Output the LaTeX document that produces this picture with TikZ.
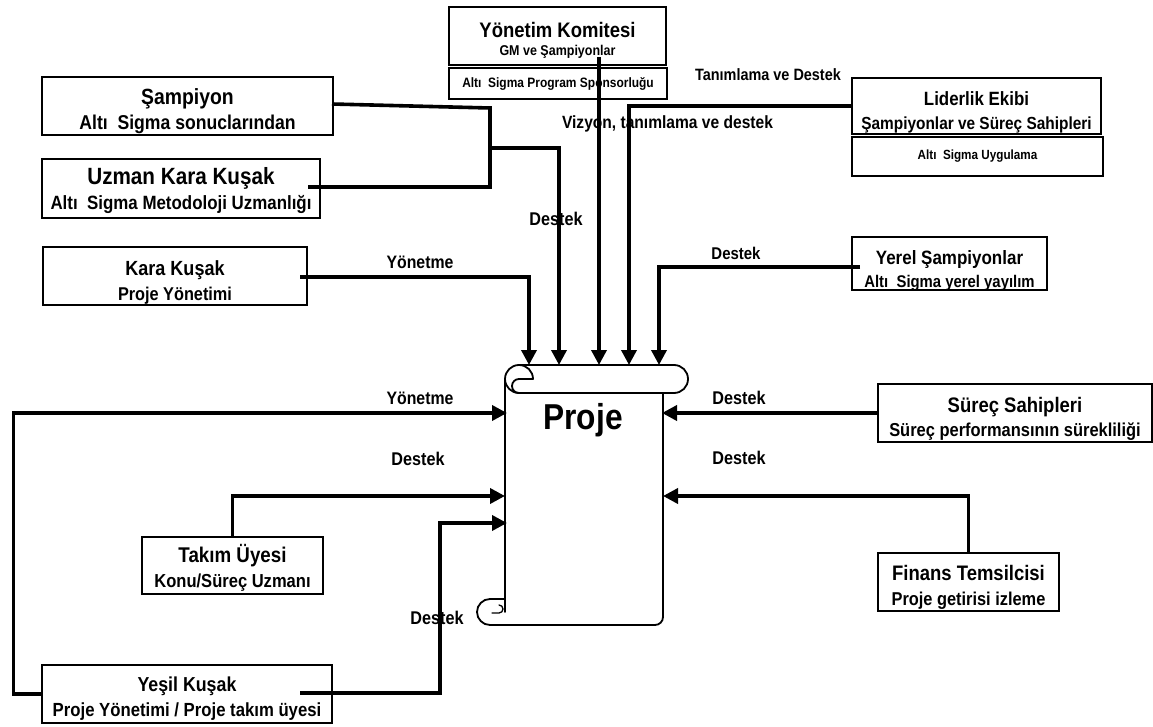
\documentclass[tikz,border=0pt]{standalone}
\usepackage{fontspec}
\setmainfont{Liberation Sans}[FakeStretch=0.88]
\usetikzlibrary{arrows.meta}
\newcommand\myfs[2]{\fontsize{#1}{#2}\selectfont\bfseries}
\begin{document}
\begin{tikzpicture}[x=1pt,y=-1pt,
  box/.style={draw, line width=1.4pt, inner sep=0pt},
  txt/.style={align=center, inner sep=0pt},
  conn/.style={line width=3.6pt},
  arr/.style={conn, -{Triangle[width=15pt,length=15pt]}},
  lbl/.style={inner sep=0pt},
  scroll/.style={line width=1.8pt, line cap=round}
]
\fill[white] (0,0) rectangle (1153,727);
\useasboundingbox (0,0) rectangle (1153,727);

% boxes
\node[box, minimum width=217pt, minimum height=58pt,
  label={[txt, yshift=-4pt, font=\myfs{21}{22}]center:Yönetim Komitesi\\[-4pt]\myfs{14.2}{22}GM ve Şampiyonlar}] (kom) at (557.5,36) {};
\node[box, minimum width=218pt, minimum height=31pt,
  label={[txt, font=\myfs{13.6}{16}]center:Altı\ \ Sigma Program Sponsorluğu}] (kom2) at (558,83.5) {};
\node[box, minimum width=291pt, minimum height=58pt,
  label={[txt, yshift=-5.5pt, font=\myfs{22}{25}]center:Şampiyon\\\myfs{20}{25}Altı\ \ Sigma sonuclarından}] (samp) at (187.5,106) {};
\node[box, minimum width=278pt, minimum height=59pt,
  label={[txt, yshift=-2.5pt, font=\myfs{23.5}{25}]center:Uzman Kara Kuşak\\\myfs{19.2}{25}Altı\ \ Sigma Metodoloji Uzmanlığı}] (uzman) at (181,188.5) {};
\node[box, minimum width=264pt, minimum height=58pt,
  label={[txt, yshift=-6.5pt, font=\myfs{20.5}{25}]center:Kara Kuşak\\\myfs{18.5}{25}Proje Yönetimi}] (kara) at (175,276) {};
\node[box, minimum width=249pt, minimum height=56pt,
  label={[txt, yshift=-6pt, font=\myfs{19.2}{24}]center:Liderlik Ekibi\\\myfs{17.5}{24}Şampiyonlar ve Süreç Sahipleri}] (lid) at (976.5,106) {};
\node[box, minimum width=251pt, minimum height=39pt,
  label={[txt, font=\myfs{13.3}{16}]center:Altı\ \ Sigma Uygulama}] (lid2) at (977.5,156.5) {};
\node[box, minimum width=195pt, minimum height=53pt,
  label={[txt, yshift=-7pt, font=\myfs{19.3}{23}]center:Yerel Şampiyonlar\\\myfs{16.9}{23}Altı\ \ Sigma yerel yayılım}] (yerel) at (949.5,263.5) {};
\node[box, minimum width=274pt, minimum height=58pt,
  label={[txt, yshift=-5.5pt, font=\myfs{21}{24}]center:Süreç Sahipleri\\\myfs{18.7}{24}Süreç performansının sürekliliği}] (surec) at (1015,413) {};
\node[box, minimum width=181pt, minimum height=58pt,
  label={[txt, yshift=-5pt, font=\myfs{21}{25}]center:Finans Temsilcisi\\\myfs{18.6}{25}Proje getirisi izleme}] (finans) at (968.5,582) {};
\node[box, minimum width=181pt, minimum height=57pt,
  label={[txt, yshift=-2pt, font=\myfs{21.3}{25}]center:Takım Üyesi\\\myfs{18.8}{25}Konu/Süreç Uzmanı}] (takim) at (232.5,565.5) {};
\node[box, minimum width=290pt, minimum height=58pt,
  label={[txt, yshift=-5pt, font=\myfs{20.2}{25}]center:Yeşil Kuşak\\\myfs{19}{25}Proje Yönetimi / Proje takım üyesi}] (yesil) at (187,694) {};

% project scroll
\node[font=\myfs{36}{40}] (proje) at (583,420) {Proje};
\draw[scroll] (519,365) -- (674,365) arc[start angle=270,end angle=450,radius=14] -- (519,393);
\draw[scroll] (533,379) arc[start angle=0,end angle=-270,radius=14];
\draw[scroll] (533,379) -- (519,379) arc[start angle=270,end angle=90,radius=7];
\draw[scroll] (505,379) -- (505,612);
\draw[scroll] (663,393) -- (663,617) arc[start angle=0,end angle=90,radius=8] -- (490,625);
\draw[scroll] (490,625) arc[start angle=90,end angle=270,radius=13] -- (505,599);
\draw[scroll, line width=1.3pt] (492,613) -- (499,613) arc[start angle=90,end angle=-90,radius=4];

% labels
\node[lbl, font=\myfs{16.4}{20}] (l1) at (768,75) {Tanımlama ve Destek};
\node[lbl, font=\myfs{17.7}{20}] (l2) at (667.5,124) {Vizyon, tanımlama ve destek};
\node[lbl, font=\myfs{18.4}{20}] (l3) at (556,219) {Destek};
\node[lbl, font=\myfs{18}{20}] (l4) at (420,262) {Yönetme};
\node[lbl, font=\myfs{17}{20}] (l5) at (736,253) {Destek};
\node[lbl, font=\myfs{18}{20}] (l6) at (420,398) {Yönetme};
\node[lbl, font=\myfs{18.4}{20}] (l7) at (418,459) {Destek};
\node[lbl, font=\myfs{18.4}{20}] (l8) at (437,618) {Destek};
\node[lbl, font=\myfs{18.4}{20}] (l9) at (739,398) {Destek};
\node[lbl, font=\myfs{18.4}{20}] (l10) at (739,458) {Destek};

% coordinates
\coordinate (sampS) at (332,104);
\coordinate (j1) at (490,108);
\coordinate (j2) at (490,187);
\coordinate (uzS) at (308,187);
\coordinate (j3) at (490,148);
\coordinate (komS) at (599,57);
\coordinate (yerS) at (860,267);
\coordinate (karS) at (300,277);
\coordinate (yesS) at (300,693);
\coordinate (j4) at (440,693);
\coordinate (t1) at (529,365);
\coordinate (t2) at (559,365);
\coordinate (t3) at (599,365);
\coordinate (t4) at (629,365);
\coordinate (t5) at (659,365);
\coordinate (tL1) at (507,413);
\coordinate (tL2) at (505,496);
\coordinate (tL3) at (507,523);
\coordinate (tR1) at (662,413);
\coordinate (tR2) at (663,496);

% connectors
\draw[conn] (sampS) -- (j1) -- (j2) -- (uzS);
\draw[arr] (j3) -| (t2);
\draw[arr] (komS) -- (t3);
\draw[arr] (lid.west) -| (t4);
\draw[arr] (yerS) -| (t5);
\draw[arr] (karS) -| (t1);
\draw[arr] (yesil.west) -- ++(-28,0) |- (tL1);
\draw[arr] (takim.north) |- (tL2);
\draw[arr] (yesS) -- (j4) |- (tL3);
\draw[arr] (surec.west) -- (tR1);
\draw[arr] (finans.north) |- (tR2);
\end{tikzpicture}
\end{document}
